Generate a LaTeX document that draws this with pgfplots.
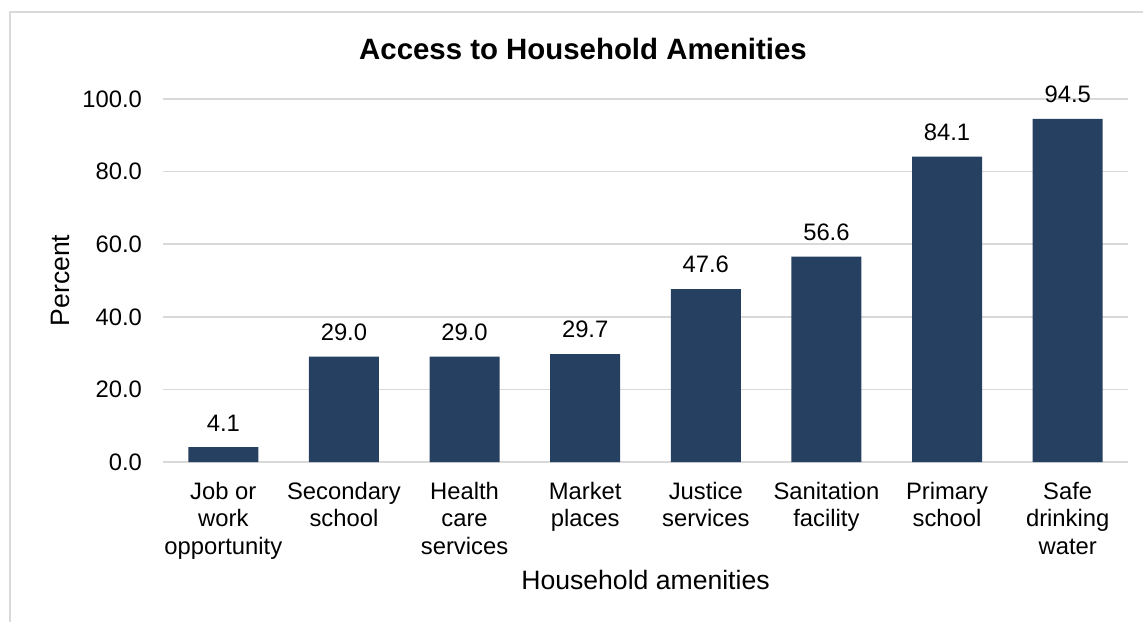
\documentclass[border=0pt]{standalone}
\usepackage{pgfplots}
\pgfplotsset{compat=1.18}
\usepackage{fontspec}
\setmainfont{Liberation Sans}
\definecolor{barc}{HTML}{264061}
\definecolor{gridc}{HTML}{D9D9D9}
\begin{document}
\begin{tikzpicture}
\begin{axis}[
  scale only axis,
  width=482.5pt, height=181.5pt,
  xmin=-0.5, xmax=7.5, ymin=0, ymax=100,
  ytick={0,20,40,60,80,100},
  xtick={0,1,2,3,4,5,6,7},
  xticklabels={Job or\\work\\opportunity, Secondary\\school, Health\\care\\services, Market\\places, Justice\\services, Sanitation\\facility, Primary\\school, Safe\\drinking\\water},
  xticklabel style={align=center, font=\fontsize{11.9}{13.7}\selectfont, anchor=north, yshift=-6.5pt},
  yticklabel style={font=\fontsize{11.9}{13.7}\selectfont, xshift=-7pt},
  /pgf/number format/assume math mode=true,
  yticklabel={\pgfmathprintnumber[fixed,fixed zerofill,precision=1]{\tick}},
  major tick length=0pt,
  axis line style={draw=none},
  ymajorgrids,
  grid style={draw=gridc, line width=0.8pt},
  clip=false,
  ybar, bar width=35pt,
  nodes near coords={\pgfmathprintnumber[fixed,fixed zerofill,precision=1]{\pgfplotspointmeta}},
  nodes near coords style={font=\fontsize{11.9}{13.7}\selectfont, anchor=south, yshift=4.5pt},
  xlabel={Household amenities},
  xlabel style={font=\fontsize{13.3}{15}\selectfont, at={(axis description cs:0.5,-0.325)}, anchor=center},
  ylabel={Percent},
  ylabel style={font=\fontsize{13.3}{15}\selectfont, at={(axis description cs:-0.1067,0.5)}, anchor=center},
]
\addplot[fill=barc, draw=none] coordinates {(0,4.1) (1,29.0) (2,29.0) (3,29.7) (4,47.6) (5,56.6) (6,84.1) (7,94.5)};
\end{axis}
\begin{scope}[x=0.5pt, y=0.5pt, shift={(-81.5pt,-80pt)}]
  \path[use as bounding box] (0,0) rectangle (1143,622);
  \draw[gridc, line width=0.9pt] (10,0) -- (10,610) -- (1143,610);
  \node[font=\fontsize{14.7}{17}\selectfont\bfseries] at (583,573) {Access to Household Amenities};
\end{scope}
\end{tikzpicture}
\end{document}
